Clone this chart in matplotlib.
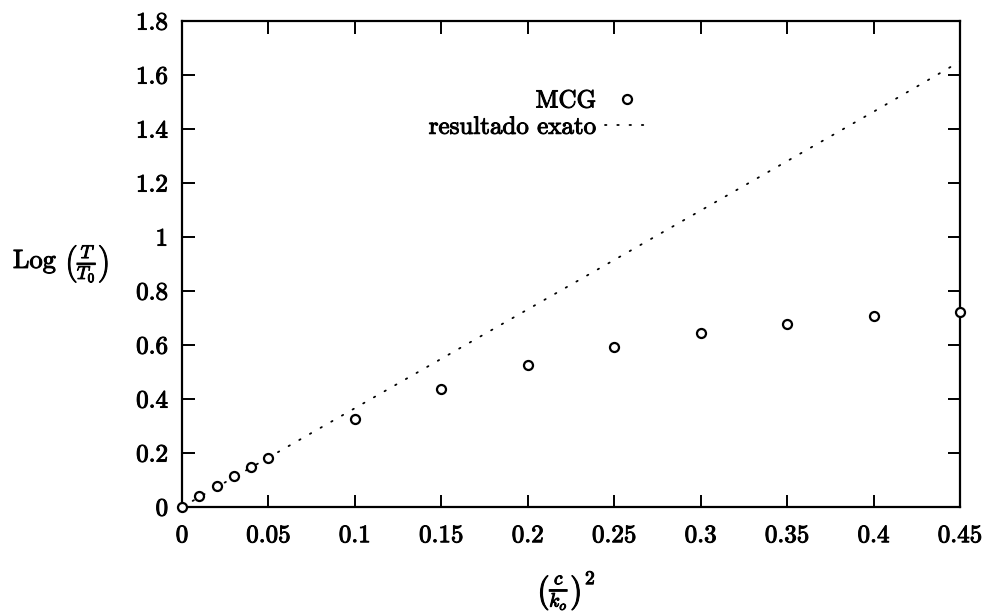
import matplotlib
matplotlib.use("Agg")
import matplotlib.pyplot as plt
import matplotlib.patheffects as pe

# MCG data
mcg_x = [0.0, 0.01, 0.02, 0.03, 0.04, 0.05, 0.10, 0.15, 0.20, 0.25, 0.30, 0.35, 0.40, 0.45]
mcg_y = [0.0, 0.041, 0.077, 0.116, 0.149, 0.183, 0.325, 0.438, 0.527, 0.594, 0.646, 0.677, 0.706, 0.721]

# exact result (dotted line), read at a few abscissas
exact_x = [0.0, 0.05, 0.10, 0.15, 0.20, 0.25, 0.30, 0.35, 0.40, 0.45]
exact_y = [0.0, 0.183, 0.366, 0.549, 0.732, 0.915, 1.098, 1.281, 1.464, 1.650]

x_ticks = [0, 0.05, 0.1, 0.15, 0.2, 0.25, 0.3, 0.35, 0.4, 0.45]
x_ticklabels = ['0', '0.05', '0.1', '0.15', '0.2', '0.25', '0.3', '0.35', '0.4', '0.45']
y_ticks = [0, 0.2, 0.4, 0.6, 0.8, 1.0, 1.2, 1.4, 1.6, 1.8]
y_ticklabels = ['0', '0.2', '0.4', '0.6', '0.8', '1', '1.2', '1.4', '1.6', '1.8']

label_mcg = 'MCG'
label_exact = 'resultado exato'

plt.rcParams['font.family'] = ['cmr10', 'DejaVu Serif']
plt.rcParams['mathtext.fontset'] = 'cm'
plt.rcParams['axes.formatter.use_mathtext'] = True

thick = [pe.withStroke(linewidth=0.7, foreground='black')]

fig = plt.figure(figsize=(9.87, 6.12), dpi=100)
ax = fig.add_axes([182/987, 1 - 507/612, (960-182)/987, (507-21)/612])

ax.plot(exact_x, exact_y, color='black', lw=1.3, linestyle=(0, (0.8, 6.0)),
        dash_capstyle='round', label=label_exact)
ax.plot(mcg_x, mcg_y, linestyle='none', marker='o', ms=6.5, mfc='white',
        mec='black', mew=1.6, label=label_mcg, clip_on=False, zorder=5)

ax.set_xlim(0, 0.45)
ax.set_ylim(0, 1.8)
ax.set_xticks(x_ticks)
ax.set_xticklabels(x_ticklabels)
ax.set_yticks(y_ticks)
ax.set_yticklabels(y_ticklabels)
ax.tick_params(direction='in', length=9, width=1.4, labelsize=18,
               top=True, right=True)
ax.tick_params(axis='x', pad=13)
ax.tick_params(axis='y', pad=10)
for s in ax.spines.values():
    s.set_linewidth(1.6)
for t in ax.get_xticklabels() + ax.get_yticklabels():
    t.set_path_effects(thick)

handles, labels = ax.get_legend_handles_labels()
leg = ax.legend(handles[::-1], labels[::-1], loc='upper right',
                bbox_to_anchor=(0.6015, 0.858), frameon=False, markerfirst=False,
                fontsize=18, handlelength=1.8, handletextpad=0.35, numpoints=1,
                labelspacing=0.15, borderpad=0, borderaxespad=0)
for t in leg.get_texts():
    t.set_path_effects(thick)

fig.text(13/987, 1 - 263/612, r'Log $\left(\frac{T}{T_0}\right)$', fontsize=19,
         ha='left', va='center', path_effects=thick)
fig.text(566/987, 1 - 590/612, r'$\left(\frac{c}{k_o}\right)^2$', fontsize=20,
         ha='center', va='center', path_effects=thick)

fig.savefig('out.png', dpi=100)
